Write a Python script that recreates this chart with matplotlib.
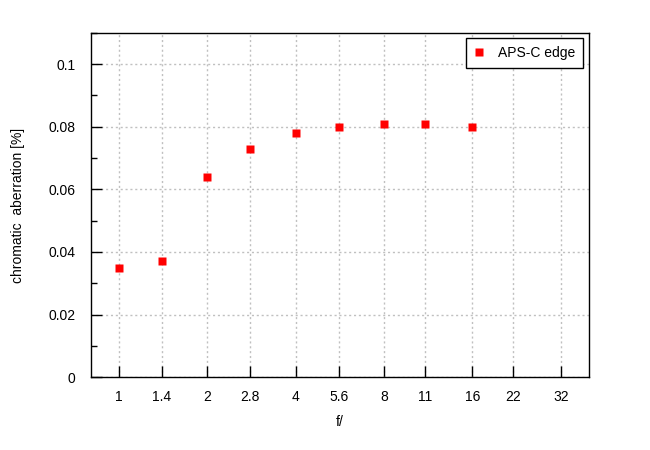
import matplotlib
matplotlib.use("Agg")
import matplotlib.pyplot as plt
from matplotlib.ticker import FixedLocator, NullLocator, MultipleLocator

# f-stops and measured chromatic aberration
fstops = [1, 1.4, 2, 2.8, 4, 5.6, 8, 11, 16]
ca_edge = [0.035, 0.037, 0.064, 0.073, 0.078, 0.080, 0.081, 0.081, 0.080]
tick_stops = [1, 1.4, 2, 2.8, 4, 5.6, 8, 11, 16, 22, 32]
tick_labels = ["1", "1.4", "2", "2.8", "4", "5.6", "8", "11", "16", "22", "32"]

plt.rcParams['font.family'] = ['Liberation Sans', 'DejaVu Sans']
plt.rcParams['font.size'] = 10

fig = plt.figure(figsize=(6.5, 4.5), dpi=100)
ax = fig.add_axes([0.14, 0.162, 0.766, 0.765])

ax.plot(fstops, ca_edge, 's', color='#ff0000', ms=6, mec='none', label='APS-C edge')

ax.set_xscale('log')
ax.set_xlim(0.803, 39.9)
ax.set_ylim(0, 0.11)
ax.xaxis.set_major_locator(FixedLocator(tick_stops))
ax.xaxis.set_minor_locator(NullLocator())
ax.set_xticklabels(tick_labels)
ax.yaxis.set_major_locator(FixedLocator([0, 0.02, 0.04, 0.06, 0.08, 0.1]))
ax.set_yticklabels(["0", "0.02", "0.04", "0.06", "0.08", "0.1"])
ax.yaxis.set_minor_locator(MultipleLocator(0.01))

ax.tick_params(which='major', direction='in', length=8, width=1, colors='black')
ax.tick_params(axis='y', pad=11)
ax.tick_params(axis='x', pad=9)
ax.tick_params(which='minor', direction='in', length=4, width=1)

ax.grid(True, which='major', color='#c0c0c0', linestyle=(0, (1.5, 2)), linewidth=1)
for s in ax.spines.values():
    s.set_linewidth(1)

ax.set_xlabel('f/', labelpad=8)
ax.set_ylabel('chromatic  aberration [%]', labelpad=17)

leg = ax.legend(loc='upper right', frameon=True, fancybox=False, edgecolor='black',
                framealpha=1, borderaxespad=0.4, handletextpad=1.0, borderpad=0.55,
                handlelength=0.8)
leg.get_frame().set_linewidth(1)

fig.savefig('out.png', dpi=100)
